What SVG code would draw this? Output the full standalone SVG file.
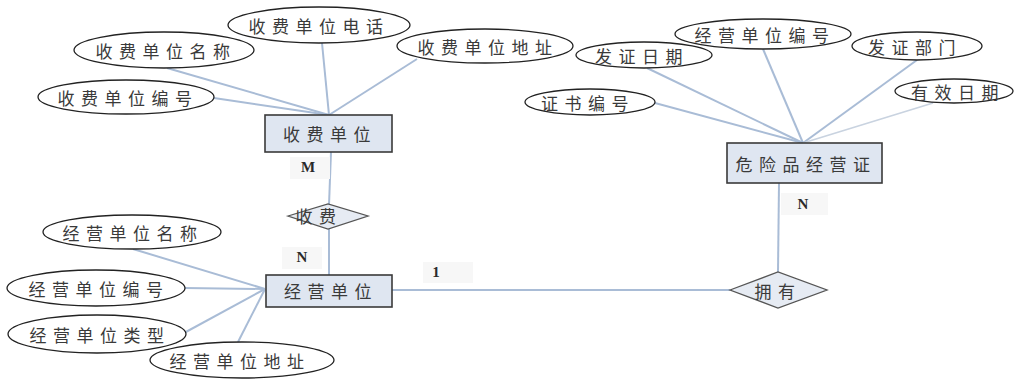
<svg xmlns="http://www.w3.org/2000/svg" width="1014" height="379" viewBox="0 0 1014 379">
<style>
.e{fill:#fff;stroke:#222;stroke-width:1.3}
.r{fill:#dfe6f1;stroke:#3a3a3a;stroke-width:1.6}
.d{fill:#e6ebf3;stroke:#555;stroke-width:1.3}
.t{font-family:"Noto Sans CJK SC","Noto Sans CJK JP",sans-serif;font-size:17px;fill:#3a3a3a;letter-spacing:6.5px;text-anchor:middle;dominant-baseline:central}
.c{stroke:#a9bcd6;stroke-width:2;fill:none}
.c2{stroke:#c9d3e0;stroke-width:1.6;fill:none}
.lb{font-family:"Liberation Serif",serif;font-size:15px;font-weight:bold;fill:#2a2a2a;text-anchor:middle;dominant-baseline:central}
.pb{fill:#f7f7f7}
</style>
<rect width="1014" height="379" fill="#fff"/>
<g id="connectors">
<line class="c" x1="322" y1="43" x2="329" y2="115"/>
<line class="c" x1="167" y1="68" x2="329" y2="115"/>
<line class="c" x1="214" y1="98" x2="329" y2="115"/>
<line class="c" x1="417" y1="59" x2="329" y2="115"/>
<line class="c" x1="331" y1="152" x2="329" y2="205"/>
<line class="c" x1="329" y1="229" x2="329" y2="275"/>
<line class="c" x1="133" y1="249" x2="265" y2="289"/>
<line class="c" x1="185" y1="288" x2="265" y2="289"/>
<line class="c" x1="184" y1="333" x2="265" y2="289"/>
<line class="c" x1="238" y1="342" x2="265" y2="289"/>
<line class="c" x1="392" y1="290" x2="730" y2="290"/>
<line class="c" x1="779" y1="183" x2="778" y2="272"/>
<line class="c" x1="763" y1="49" x2="803" y2="143"/>
<line class="c" x1="917" y1="60" x2="803" y2="143"/>
<line class="c" x1="647" y1="68" x2="803" y2="143"/>
<line class="c" x1="655" y1="103" x2="803" y2="143"/>
<line class="c2" x1="933" y1="103" x2="803" y2="143"/>
</g>
<g id="labels">
<rect class="pb" x="290" y="157" width="40" height="22"/>
<text class="lb" x="308" y="167">M</text>
<rect class="pb" x="282" y="247" width="40" height="22"/>
<text class="lb" x="302" y="257">N</text>
<rect class="pb" x="423" y="262" width="50" height="21"/>
<text class="lb" x="436" y="272">1</text>
<rect class="pb" x="781" y="193" width="47" height="22"/>
<text class="lb" x="803" y="204">N</text>
</g>
<g id="sf-dianhua"><ellipse class="e" cx="319" cy="25" rx="91" ry="18"/><text class="t" x="319" y="25">收费单位电话</text></g>
<g id="sf-mingcheng"><ellipse class="e" cx="164" cy="50" rx="90" ry="18"/><text class="t" x="166" y="50">收费单位名称</text></g>
<g id="sf-bianhao"><ellipse class="e" cx="126" cy="97" rx="88" ry="17"/><text class="t" x="128" y="97">收费单位编号</text></g>
<g id="sf-dizhi"><ellipse class="e" cx="485" cy="46" rx="88" ry="17"/><text class="t" x="488" y="46">收费单位地址</text></g>
<g id="shoufeidanwei"><rect class="r" x="265" y="115" width="127" height="37"/><text class="t" x="330" y="133">收费单位</text></g>
<g id="shoufei"><polygon class="d" points="288,216 328,204 368,216 328,229"/><text class="t" x="319" y="215">收费</text></g>
<g id="jingyingdanwei"><rect class="r" x="266" y="275" width="126" height="32"/><text class="t" x="331" y="290">经营单位</text></g>
<g id="jy-mingcheng"><ellipse class="e" cx="132" cy="232" rx="89" ry="17"/><text class="t" x="133" y="232">经营单位名称</text></g>
<g id="jy-bianhao"><ellipse class="e" cx="96" cy="288" rx="89" ry="18"/><text class="t" x="99" y="288">经营单位编号</text></g>
<g id="jy-leixing"><ellipse class="e" cx="97" cy="334" rx="89" ry="19"/><text class="t" x="100" y="334">经营单位类型</text></g>
<g id="jy-dizhi"><ellipse class="e" cx="242" cy="360" rx="92" ry="18"/><text class="t" x="240" y="360">经营单位地址</text></g>
<g id="yongyou"><polygon class="d" points="730,290 778,272 827,290 778,308"/><text class="t" x="778" y="290">拥有</text></g>
<g id="weixianpin"><rect class="r" x="727" y="143" width="155" height="40"/><text class="t" x="806" y="163">危险品经营证</text></g>
<g id="wx-jybianhao"><ellipse class="e" cx="763" cy="34" rx="88" ry="15"/><text class="t" x="765" y="34">经营单位编号</text></g>
<g id="wx-fazhengbumen"><ellipse class="e" cx="917" cy="46" rx="65" ry="14"/><text class="t" x="915" y="46">发证部门</text></g>
<g id="wx-fazhengriqi"><ellipse class="e" cx="644" cy="55" rx="68" ry="13"/><text class="t" x="642" y="55">发证日期</text></g>
<g id="wx-zhengshu"><ellipse class="e" cx="590" cy="102" rx="65" ry="13"/><text class="t" x="588" y="102">证书编号</text></g>
<g id="wx-youxiao"><ellipse class="e" cx="954" cy="91" rx="59" ry="12"/><text class="t" x="958" y="91">有效日期</text></g>
</svg>
